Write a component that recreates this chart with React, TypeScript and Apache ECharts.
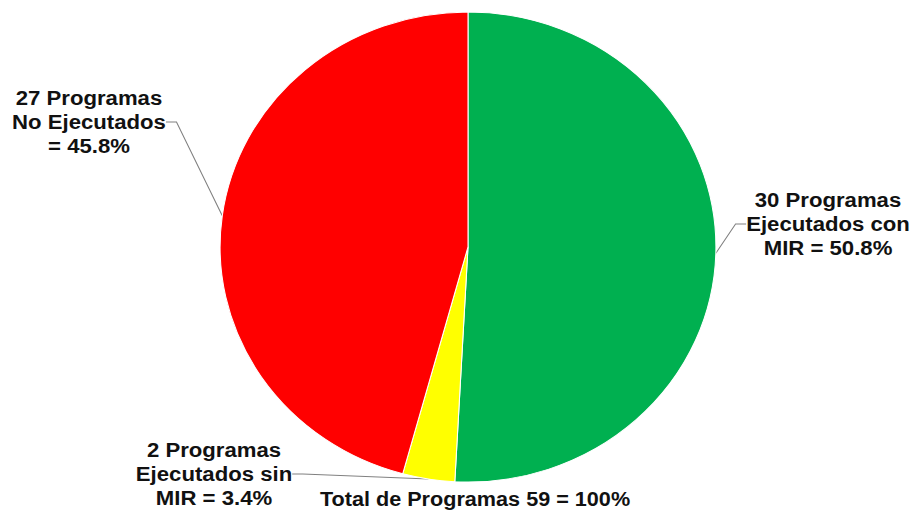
import React, { useEffect, useRef } from "react";
import * as echarts from "echarts";

const categories = ["Ejecutados con MIR", "Ejecutados sin MIR", "No Ejecutados"];
const values = [30, 2, 27];
const labelTexts = [
  ["30 Programas", "Ejecutados con", "MIR = 50.8%"],
  ["2 Programas", "Ejecutados sin", "MIR = 3.4%"],
  ["27 Programas", "No Ejecutados", "= 45.8%"],
];
const colors = ["#00B050", "#FFFF00", "#FF0000"];
const totalText = "Total de Programas 59 = 100%";

const SX = 1.055;
const W = 872;
const H = 512;
const px = (x: number) => x / SX;

// label anchor positions (page coords) per slice
const labelPos = [
  { x: 828, y: 224 },
  { x: 214, y: 474 },
  { x: 89, y: 122 },
];

export default function App() {
  const ref = useRef<HTMLDivElement>(null);
  useEffect(() => {
    if (!ref.current) return;
    const chart = echarts.init(ref.current, null, { renderer: "svg" });
    const font = "'Liberation Sans', Arial, sans-serif";
    chart.setOption({
      animation: false,
      backgroundColor: "#ffffff",
      graphic: [
        {
          type: "text",
          x: px(475),
          y: 499,
          style: {
            text: totalText,
            fontFamily: font,
            fontWeight: "bold",
            fontSize: 20.5,
            fill: "#111",
            align: "center",
            verticalAlign: "middle",
          },
        },
      ],
      series: [
        {
          type: "pie",
          center: [px(468), 247],
          radius: 235,
          startAngle: 90,
          clockwise: true,
          avoidLabelOverlap: false,
          itemStyle: { borderColor: "#ffffff", borderWidth: 1 },
          label: {
            show: true,
            position: "outside",
            formatter: (p: any) => labelTexts[p.dataIndex].join("\n"),
            fontFamily: font,
            fontWeight: "bold",
            fontSize: 21,
            lineHeight: 24,
            color: "#111",
            align: "center",
          },
          labelLine: {
            show: true,
            length: 20,
            length2: 10,
            lineStyle: { color: "#808080", width: 1 },
          },
          labelLayout: (params: any) => {
            const pos = labelPos[params.dataIndex];
            return {
              x: px(pos.x),
              y: pos.y,
              align: "center",
              verticalAlign: "middle",
            };
          },
          data: categories.map((c, i) => ({
            name: c,
            value: values[i],
            itemStyle: { color: colors[i] },
          })),
        },
      ],
    });
    return () => chart.dispose();
  }, []);
  return (
    <div
      ref={ref}
      style={{
        position: "fixed",
        left: 0,
        top: 0,
        width: W,
        height: H,
        transform: `scaleX(${SX})`,
        transformOrigin: "0 0",
      }}
    />
  );
}
